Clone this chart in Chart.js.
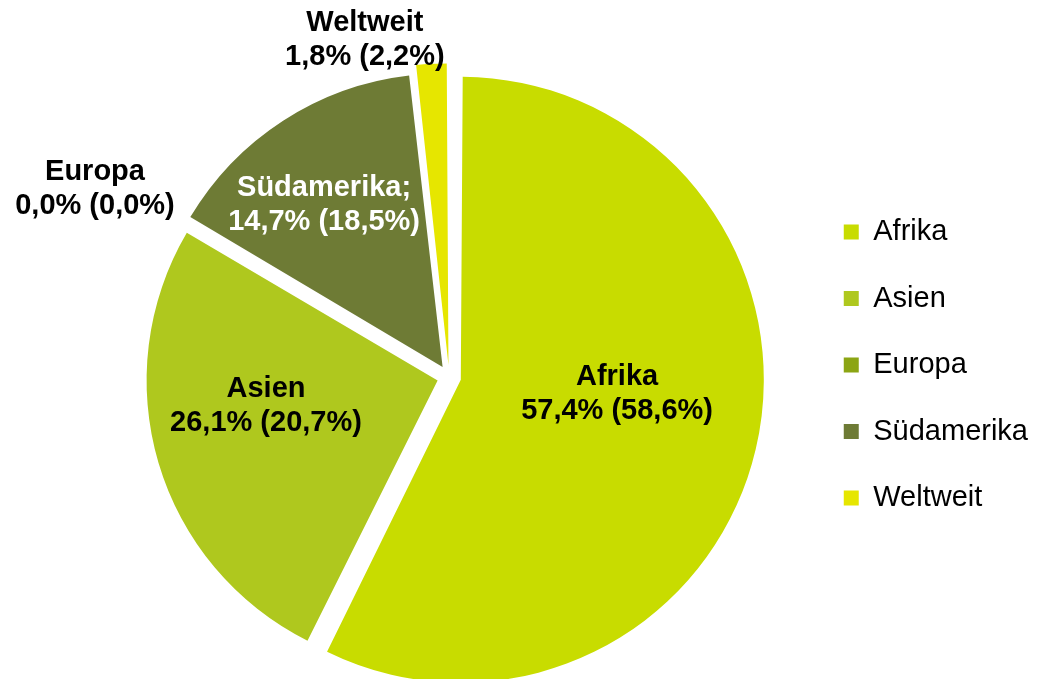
<!DOCTYPE html>
<html><head><meta charset="utf-8">
<script src="https://cdn.jsdelivr.net/npm/chart.js@4"></script>
<style>html,body{margin:0;padding:0;background:#fff}#wrap{width:1038px;height:679px;overflow:hidden}</style>
</head><body><div id="wrap"><canvas id="c" width="1038" height="679"></canvas></div>
<script>
const categories = ['Afrika', 'Asien', 'Europa', 'Südamerika', 'Weltweit'];
const labelNames = ['Afrika', 'Asien', 'Europa', 'Südamerika;', 'Weltweit'];
const shares = [57.4, 26.1, 0.04, 14.7, 1.8];
const sharesPrev = [58.6, 20.7, 0.0, 18.5, 2.2];

const colors = ['#C8DC00', '#AFC81E', '#8CA514', '#6E7B35', '#E6E600'];
const labelColors = ['#000000', '#000000', '#000000', '#FFFFFF', '#000000'];
const labelPlacement = [
  {f: 0.534, dx: 5, dy: -21},
  {f: 0.59, dx: -7, dy: -23},
  {f: 1.336, dx: -9, dy: 16},
  {f: 0.686, dx: -10, dy: 6},
  {f: 1.131, dx: -65, dy: 4}
];
const FONT = '"Liberation Sans", Arial, sans-serif';
const fmt = v => v.toFixed(1).replace('.', ',') + '%';

const sliceLabels = {
  id: 'sliceLabels',
  afterDatasetsDraw(chart) {
    const ctx = chart.ctx;
    const meta = chart.getDatasetMeta(0);
    meta.data.forEach((arc, i) => {
      const p = arc.getProps(['x', 'y', 'startAngle', 'endAngle', 'outerRadius'], true);
      const off = (arc.options.offset || 0) / 4;
      const mid = (p.startAngle + p.endAngle) / 2;
      const pl = labelPlacement[i];
      const d = p.outerRadius * pl.f + off;
      const cx = p.x + Math.cos(mid) * d + pl.dx;
      const cy = p.y + Math.sin(mid) * d + pl.dy;
      ctx.save();
      ctx.font = 'bold 29px ' + FONT;
      ctx.fillStyle = labelColors[i];
      ctx.textAlign = 'center';
      ctx.textBaseline = 'middle';
      ctx.fillText(labelNames[i], cx, cy - 17);
      ctx.fillText(fmt(shares[i]) + ' (' + fmt(sharesPrev[i]) + ')', cx, cy + 17);
      ctx.restore();
    });
  }
};

const legendShift = {
  id: 'legendShift',
  afterLayout(chart) {
    const lg = chart.legend;
    if (lg) { lg.top -= 12; lg.bottom -= 12; }
  }
};

new Chart(document.getElementById('c'), {
  type: 'pie',
  data: {
    labels: categories,
    datasets: [{
      data: shares,
      backgroundColor: colors,
      borderWidth: 0,
      offset: 48,
      radius: 291
    }]
  },
  options: {
    responsive: false,
    animation: false,
    layout: {padding: {left: 92, top: 75, bottom: 0, right: 0}},
    plugins: {
      legend: {
        position: 'right',
        labels: {
          boxWidth: 15, boxHeight: 15, padding: 37.5, color: '#000000',
          font: {family: FONT, size: 29}
        }
      },
      tooltip: {enabled: false}
    }
  },
  plugins: [sliceLabels, legendShift]
});
</script></body></html>
